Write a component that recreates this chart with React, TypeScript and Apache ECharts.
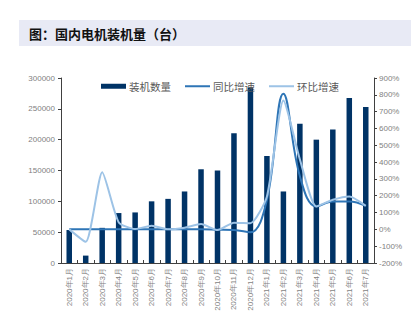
import React, { useEffect, useRef } from "react";
import * as echarts from "echarts";

const categories = [
  "2020年1月", "2020年2月", "2020年3月", "2020年4月", "2020年5月", "2020年6月",
  "2020年7月", "2020年8月", "2020年9月", "2020年10月", "2020年11月", "2020年12月",
  "2021年1月", "2021年2月", "2021年3月", "2021年4月", "2021年5月", "2021年6月", "2021年7月",
];
const installed = [
  53500, 12000, 57000, 81000, 82000, 100000, 104000, 116000, 152000, 150000,
  210500, 284700, 173500, 116000, 225800, 200000, 216500, 267600, 253000,
];
const yoy = [0, 0, 0, 0, 0, 0, 0, 0, 0, -2, -4, -17, 176, 806, 316, 136, 166, 166, 140];
const mom = [0, -74, 340, 43, 2, 22, 0, 10, 32, -4, 40, 37, 196, 766, 416, 136, 176, 196, 140];

const title = "图：国内电机装机量（台）";

export default function App() {
  const ref = useRef<HTMLDivElement>(null);
  useEffect(() => {
    if (!ref.current) return;
    const chart = echarts.init(ref.current, undefined, { renderer: "svg" });
    const axisLabel = { color: "#7f7f7f", fontSize: 8, fontFamily: "Liberation Sans, Arial, sans-serif" };
    const axisLine = { show: true, lineStyle: { color: "#404040", width: 1 } };
    const lineIcon = "path://M0,0 L50,0 L50,4 L0,4 Z";
    chart.setOption({
      animation: false,
      backgroundColor: "#ffffff",
      graphic: [
        { type: "rect", shape: { x: 19, y: 20, width: 392, height: 26 }, style: { fill: "#e8eaf5" }, silent: true },
        {
          type: "text", x: 29, y: 33,
          style: {
            text: title, fill: "#111", font: "bold 13px 'Noto Sans CJK SC', sans-serif",
            verticalAlign: "middle", align: "left",
          },
        },
      ],
      legend: {
        left: 96, top: 76, itemGap: 14, itemWidth: 25, itemHeight: 5,
        textStyle: { color: "#595959", fontSize: 10.5, fontFamily: "'Noto Sans CJK SC', sans-serif", padding: [0, 0, 0, -2] },
        data: [
          { name: "装机数量", icon: "rect" },
          { name: "同比增速", icon: lineIcon },
          { name: "环比增速", icon: lineIcon },
        ],
      },
      grid: { left: 61, right: 37, top: 78, bottom: 71, containLabel: false },
      xAxis: {
        type: "category",
        data: categories,
        axisLine,
        axisTick: { show: true, inside: true, length: 3, lineStyle: { color: "#404040" } },
        axisLabel: { ...axisLabel, rotate: 90, interval: 0, margin: 5 },
      },
      yAxis: [
        {
          type: "value", min: 0, max: 300000, interval: 50000,
          axisLine, splitLine: { show: false },
          axisTick: { show: true, length: 3, lineStyle: { color: "#404040" } },
          axisLabel: { ...axisLabel, margin: 6, formatter: (v: number) => String(v) },
        },
        {
          type: "value", min: -200, max: 900, interval: 100, position: "right",
          axisLine, splitLine: { show: false },
          axisTick: { show: true, length: 3, lineStyle: { color: "#404040" } },
          axisLabel: { ...axisLabel, margin: 5, formatter: (v: number) => `${v}%` },
        },
      ],
      series: [
        {
          name: "装机数量", type: "bar", data: installed, barWidth: 5.5,
          itemStyle: { color: "#003366" },
        },
        {
          name: "同比增速", type: "line", yAxisIndex: 1, data: yoy, smooth: 0.4,
          symbol: "none", lineStyle: { color: "#2e75b6", width: 2 }, itemStyle: { color: "#2e75b6" },
        },
        {
          name: "环比增速", type: "line", yAxisIndex: 1, data: mom, smooth: 0.2,
          symbol: "none", lineStyle: { color: "#9dc3e6", width: 2 }, itemStyle: { color: "#9dc3e6" },
        },
      ],
    });
    return () => chart.dispose();
  }, []);
  return <div ref={ref} style={{ position: "absolute", left: 0, top: 0, width: 411, height: 334 }} />;
}
